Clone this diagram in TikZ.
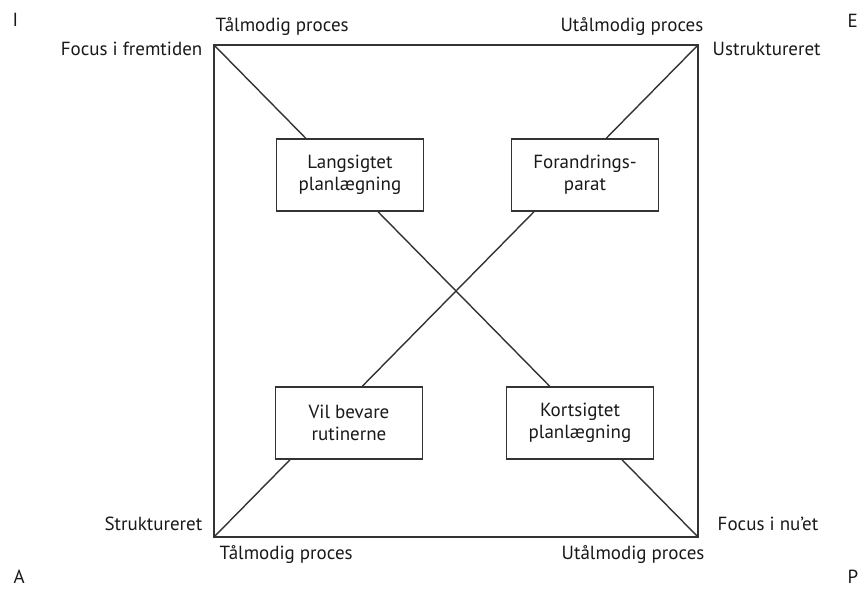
\documentclass[tikz,border=0pt]{standalone}
\usepackage{fontspec}
\setmainfont{PT Sans}
\begin{document}
\begin{tikzpicture}[x=1pt, y=-1pt, line width=1.4pt, draw=black!80,
  txt/.style={font=\fontsize{19}{22}\selectfont, text=black!90, inner sep=0pt},
  box/.style={txt, draw, fill=white, minimum width=147pt, minimum height=72pt, align=center},
  lbl/.style={txt}]
\useasboundingbox (0,0) rectangle (865,592);

% corners of the outer square
\coordinate (tl) at (214,45);
\coordinate (tr) at (698,45);
\coordinate (bl) at (214,537);
\coordinate (br) at (698,537);

% frame and diagonals
\draw (tl) rectangle (br);
\draw (tl) -- (br);
\draw (bl) -- (tr);

% quadrant boxes
\node[box] (lang) at (350,175) {Langsigtet\\planlægning};
\node[box] (foran) at (585,175) {Forandrings-\\parat};
\node[box] (bevar) at (349,423) {Vil bevare\\rutinerne};
\node[box] (kort) at (580,423) {Kortsigtet\\planlægning};

% corner letters
\node[lbl, anchor=base west] (cI) at (12,26) {I};
\node[lbl, anchor=base west] (cE) at (847,27) {E};
\node[lbl, anchor=base west] (cA) at (13,583) {A};
\node[lbl, anchor=base west] (cP) at (847,583) {P};

% labels along the top edge
\node[lbl, anchor=base west] (tp1) at (215,31) {Tålmodig proces};
\node[lbl, anchor=base east] (up1) at (704,31) {Utålmodig proces};
\node[lbl, anchor=base east] (ff) at (203,55) {Focus i fremtiden};
\node[lbl, anchor=base west] (us) at (712,55) {Ustruktureret};

% labels along the bottom edge
\node[lbl, anchor=base east] (st) at (203,530) {Struktureret};
\node[lbl, anchor=base west] (fn) at (717,530) {Focus i nu'et};
\node[lbl, anchor=base west] (tp2) at (219,559) {Tålmodig proces};
\node[lbl, anchor=base west] (up2) at (561,559) {Utålmodig proces};
\end{tikzpicture}
\end{document}
